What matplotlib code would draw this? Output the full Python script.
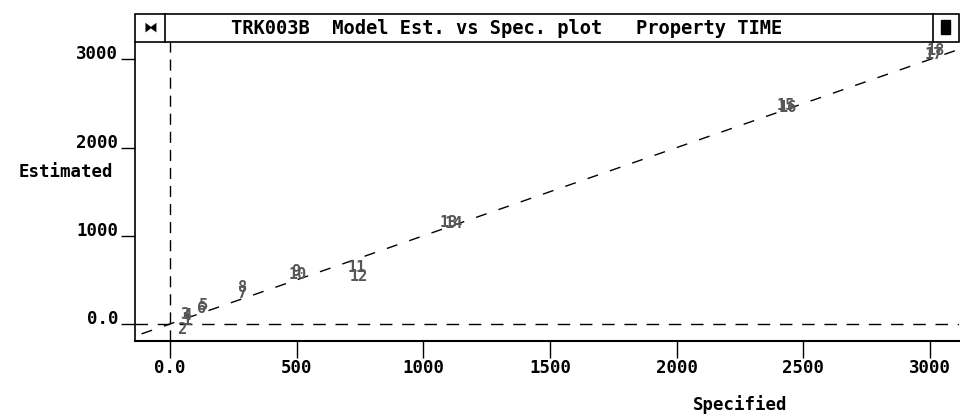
import matplotlib
matplotlib.use("Agg")
import matplotlib.pyplot as plt
from matplotlib.patches import Rectangle
import matplotlib.transforms as mtransforms

# Run numbers with specified vs. model-estimated TIME values
run_labels = ["1", "2", "3", "4", "5", "6", "7", "8", "9",
              "10", "11", "12", "13", "14", "15", "16", "17", "18"]
specified = [67, 47, 59, 67, 134, 126, 288, 288, 497,
             505, 738, 746, 1101, 1121, 2431, 2439, 3015, 3023]
estimated = [34, -68, 113, 91, 204, 170, 340, 408, 590,
             556, 635, 533, 1145, 1134, 2472, 2449, 3050, 3095]

x_ticks = [0, 500, 1000, 1500, 2000, 2500, 3000]
x_tick_labels = ["0.0", "500", "1000", "1500", "2000", "2500", "3000"]
y_ticks = [0, 1000, 2000, 3000]
y_tick_labels = ["0.0", "1000", "2000", "3000"]

title = "TRK003B  Model Est. vs Spec. plot   Property TIME"
x_title = "Specified"
y_title = "Estimated"

FONT = "DejaVu Sans Mono"
W, H = 960, 418
fig = plt.figure(figsize=(W / 100, H / 100), dpi=100)

def fx(px):
    return px / W

def fy(py):
    return 1 - py / H

ax = fig.add_axes([fx(135), fy(341), fx(959) - fx(135), fy(42) - fy(341)])
ax.set_xlim(-138, 3114)
ax.set_ylim(-193, 3197)

# reference lines: axes through zero and the identity line
ax.axvline(0, color="black", lw=1.0, linestyle=(0, (8, 5)))
ax.axhline(0, color="black", lw=1.0, linestyle=(0, (9, 7)))
ax.plot([-200, 3200], [-200, 3200], color="black", lw=1.0,
        linestyle=(0, (8, 9)))

# runs plotted by their number
for lab, xs, ys in zip(run_labels, specified, estimated):
    ax.text(xs, ys, lab, color="#575757", fontsize=11, fontweight="bold",
            family=FONT, ha="center", va="center")

for side in ["top", "right"]:
    ax.spines[side].set_visible(False)
ax.spines["left"].set_linewidth(1.2)
ax.spines["bottom"].set_linewidth(1.5)

ax.set_xticks(x_ticks)
ax.set_xticklabels(x_tick_labels, family=FONT, fontweight="bold", fontsize=12.5)
ax.tick_params(axis="x", direction="out", length=12, width=1, pad=1)
ax.set_yticks(y_ticks)
ax.set_yticklabels(y_tick_labels, family=FONT, fontweight="bold", fontsize=12.5)
ax.tick_params(axis="y", direction="out", length=10, width=1, pad=2)
offset = mtransforms.ScaledTranslation(0, 7 / 100, fig.dpi_scale_trans)
for lbl in ax.get_yticklabels():
    lbl.set_transform(lbl.get_transform() + offset)

fig.text(fx(66), fy(172), y_title, family=FONT, fontweight="bold",
         fontsize=12.5, ha="center", va="center")
fig.text(fx(740), fy(405), x_title, family=FONT, fontweight="bold",
         fontsize=12.5, ha="center", va="center")

# title bar with its two end boxes
bar_y0, bar_y1 = fy(42), fy(14)
fig.patches.append(Rectangle((fx(135), bar_y0), fx(959) - fx(135), bar_y1 - bar_y0,
                             transform=fig.transFigure, fill=False,
                             edgecolor="black", lw=1.2))
fig.add_artist(plt.Line2D([fx(165), fx(165)], [bar_y0, bar_y1],
                          transform=fig.transFigure, color="black", lw=1.2))
fig.add_artist(plt.Line2D([fx(933), fx(933)], [bar_y0, bar_y1],
                          transform=fig.transFigure, color="black", lw=1.2))
fig.patches.append(Rectangle((fx(941), fy(34)), fx(9), fy(20) - fy(34),
                             transform=fig.transFigure, color="black"))
fig.text(fx(150), fy(28), "\u29d3", family=["DejaVu Sans"], fontsize=10,
         ha="center", va="center")
fig.text(fx(507), fy(28), title, family=FONT, fontweight="bold",
         fontsize=13.5, ha="center", va="center")

fig.savefig("out.png", dpi=100)
